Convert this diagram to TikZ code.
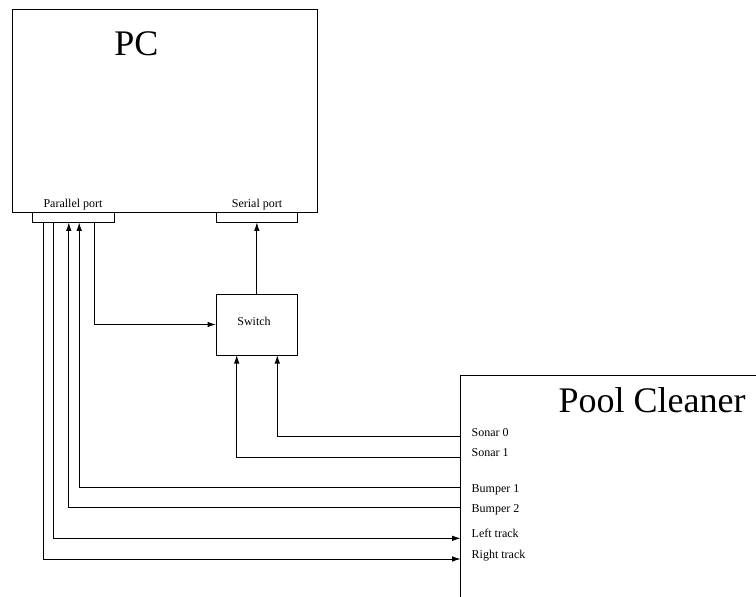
\documentclass[tikz,border=0pt]{standalone}
\usepackage{fontspec}
\setmainfont{Liberation Serif}
\usetikzlibrary{arrows.meta,calc}
\begin{document}
\begin{tikzpicture}[x=1pt,y=-1pt,
 box/.style={draw,line width=1pt,inner sep=0pt,outer sep=0pt},
 wire/.style={line width=1pt},
 arr/.style={wire,-{Latex[length=8.5pt,width=5.5pt]}},
 lbl/.style={font=\fontsize{12}{14}\selectfont,inner sep=0pt},
 big/.style={font=\fontsize{36}{40}\selectfont,inner sep=0pt}]
\useasboundingbox (0,0) rectangle (756,597);
\clip (0,0) rectangle (756,597);
% boxes
\node[box,anchor=north west,minimum width=305pt,minimum height=203pt] (pc) at (12.3,9.3) {};
\node[box,anchor=north west,minimum width=81.6pt,minimum height=10pt] (ptab) at (32.7,212.3) {};
\node[box,anchor=north west,minimum width=81pt,minimum height=10pt] (stab) at (216.7,212.3) {};
\node[box,anchor=north west,minimum width=81.7pt,minimum height=61pt] (switch) at (216,294) {};
\node[box,anchor=north west,minimum width=330pt,minimum height=260pt] (pool) at (460.7,375.7) {};
% texts
\node[big,anchor=base] (pctext) at (136.5,55) {PC};
\node[big,anchor=base] (pooltext) at (652,412) {Pool Cleaner};
\node[lbl,anchor=base] (partext) at (73,207.3) {Parallel port};
\node[lbl,anchor=base] (sertext) at (257,207.3) {Serial port};
\node[lbl,anchor=base] (swtext) at (254,325) {Switch};
\node[lbl,anchor=base west] (ls0) at (471.5,436.5) {Sonar 0};
\node[lbl,anchor=base west] (ls1) at (471.5,456.7) {Sonar 1};
\node[lbl,anchor=base west] (lb1) at (471.5,492.6) {Bumper 1};
\node[lbl,anchor=base west] (lb2) at (471.5,512.6) {Bumper 2};
\node[lbl,anchor=base west] (llt) at (471.5,537.3) {Left track};
\node[lbl,anchor=base west] (lrt) at (471.5,558.3) {Right track};
% pins
\coordinate (pp1) at (43,222.3);
\coordinate (pp2) at (53.3,222.3);
\coordinate (pp3) at (68.8,222.3);
\coordinate (pp4) at (79.2,222.3);
\coordinate (pp5) at (94,222.3);
\coordinate (sw0) at (236.7,355);
\coordinate (sw1) at (277.3,355);
\coordinate (s0) at (460.7,436.7);
\coordinate (s1) at (460.7,457);
\coordinate (b1) at (460.7,487.3);
\coordinate (b2) at (460.7,507.7);
\coordinate (lt) at (460.7,538.3);
\coordinate (rt) at (460.7,559);
% wires
\draw[arr] (pp1) |- (rt);
\draw[arr] (pp2) |- (lt);
\draw[arr] (b2) -| (pp3);
\draw[arr] (b1) -| (pp4);
\draw[arr] (pp5) |- (switch.west);
\draw[arr] (switch.north) -- (switch.north |- stab.south);
\draw[arr] (s0) -| (sw1);
\draw[arr] (s1) -| (sw0);
\end{tikzpicture}
\end{document}
